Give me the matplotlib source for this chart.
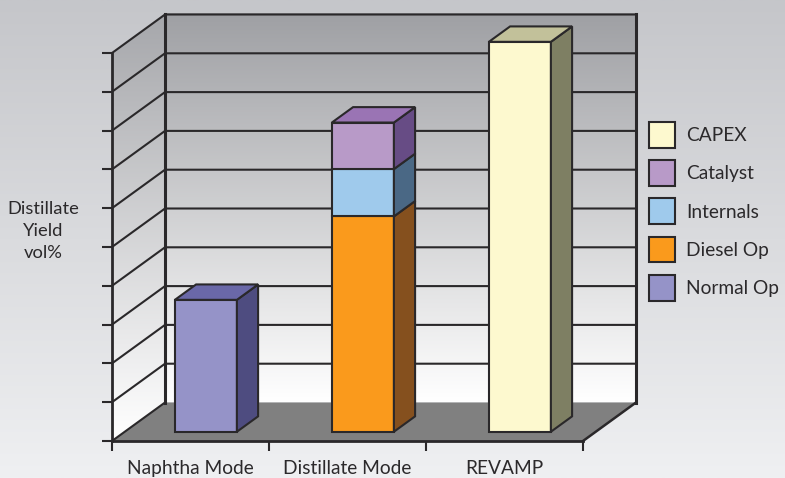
import numpy as np
import matplotlib.pyplot as plt
from matplotlib.colors import LinearSegmentedColormap
from matplotlib.patches import Polygon, Rectangle

categories = ["Naphtha Mode", "Distillate Mode", "REVAMP"]
series_names = ["Normal Op", "Diesel Op", "Internals", "Catalyst", "CAPEX"]
normal_op = [3.4, 0, 0]
diesel_op = [0, 5.55, 0]
internals = [0, 1.22, 0]
catalyst = [0, 1.2, 0]
capex = [0, 0, 10.05]
y_ticks = list(range(0, 11))

front_colors = ["#9593c8", "#fa9a1c", "#9fcaec", "#b89ac8", "#fdf9cf"]
side_colors = ["#4e4c80", "#85501e", "#4a6885", "#674c85", "#7e7f63"]
top_colors = ["#6a68a8", "#b9761c", "#6f95b8", "#9a74b4", "#c2c19a"]
edge = "#2a282a"
text_color = "#2b292b"

plt.rcParams['font.family'] = ['Lato', 'DejaVu Sans']

# oblique depth of the box, in data units
depth_x = 53 / 157
depth_y = 38.5 / 38.8
bar_width = 62 / 157
bar_shift = 0.017
bar_depth_start = 0.24
bar_depth_end = 0.64

page_cmap = LinearSegmentedColormap.from_list("page", ["#c5c6ca", "#eff0f2"])
wall_cmap = LinearSegmentedColormap.from_list("wall", ["#9fa0a4", "#ffffff"])
side_cmap = LinearSegmentedColormap.from_list("side", ["#a6a7ab", "#ffffff"])


def skew(x, y, d):
    return x + d * depth_x, y + d * depth_y


fig = plt.figure(figsize=(7.85, 4.78), dpi=100)

# page background
bg = fig.add_axes([0, 0, 1, 1], zorder=0)
bg.imshow(np.linspace(0, 1, 256).reshape(-1, 1), cmap=page_cmap, extent=(0, 1, 0, 1),
          aspect="auto")
bg.axis("off")

ax = fig.add_axes([112 / 785, 37 / 478, 471 / 785, 388 / 478], zorder=1)
ax.patch.set_visible(False)

n = len(categories)
top = max(y_ticks)
ramp = np.linspace(0, 1, 256).reshape(-1, 1)

# back wall
ax.imshow(ramp, cmap=wall_cmap, aspect="auto", zorder=1, clip_on=False,
          extent=(depth_x, n + depth_x, depth_y, top + depth_y))

# side wall, ramp clipped to the parallelogram
side = ax.imshow(ramp, cmap=side_cmap, aspect="auto", zorder=1,
                 extent=(0, depth_x, 0, top + depth_y))
side_poly = Polygon([(0, 0), (depth_x, depth_y), (depth_x, top + depth_y), (0, top)],
                    closed=True, transform=ax.transData, fc="none", ec="none",
                    clip_on=False)
ax.add_patch(side_poly)
side.set_clip_box(fig.bbox)
side.set_clip_path(side_poly)

# floor
ax.add_patch(Polygon([(0, 0), (n, 0), (n + depth_x, depth_y), (depth_x, depth_y)],
                     closed=True, fc="#808080", ec="none", zorder=1.5, clip_on=False))
ax.plot([n, n + depth_x], [0, depth_y], color=edge, lw=1.8, zorder=2,
        clip_on=False, solid_capstyle="round")

# grid on both walls
for v in y_ticks[1:]:
    ax.plot([0, depth_x, n + depth_x], [v, v + depth_y, v + depth_y],
            color=edge, lw=1.5, zorder=1.8, clip_on=False)
ax.plot([0, depth_x], [0, depth_y], color=edge, lw=1.5, zorder=1.8, clip_on=False)
ax.plot([depth_x, depth_x], [depth_y, top + depth_y], color=edge, lw=2.2,
        zorder=2, clip_on=False)
ax.plot([n + depth_x, n + depth_x], [depth_y, top + depth_y], color=edge, lw=2.2,
        zorder=2, clip_on=False)

# stacked boxes
all_series = [normal_op, diesel_op, internals, catalyst, capex]
for i in range(n):
    x0 = i + 0.5 - bar_width / 2 + bar_shift
    x1 = x0 + bar_width
    base = 0.0
    stack = [(s, values[i]) for s, values in enumerate(all_series) if values[i] > 0]
    for j, (s, h) in enumerate(stack):
        y0 = base
        y1 = base + h
        fa = skew(x0, y0, bar_depth_start)
        fb = skew(x1, y0, bar_depth_start)
        fc_ = skew(x1, y1, bar_depth_start)
        fd = skew(x0, y1, bar_depth_start)
        ba = skew(x1, y0, bar_depth_end)
        bb = skew(x1, y1, bar_depth_end)
        bc = skew(x0, y1, bar_depth_end)
        ax.add_patch(Polygon([fa, fb, fc_, fd], closed=True, fc=front_colors[s],
                             ec=edge, lw=1.5, zorder=3, clip_on=False))
        ax.add_patch(Polygon([fb, ba, bb, fc_], closed=True, fc=side_colors[s],
                             ec=edge, lw=1.5, zorder=3, clip_on=False))
        if j == len(stack) - 1:
            ax.add_patch(Polygon([fd, fc_, bb, bc], closed=True, fc=top_colors[s],
                                 ec=edge, lw=1.5, zorder=3, clip_on=False))
        base = y1

ax.set_xlim(0, n)
ax.set_ylim(0, top)

# axes
for name in ["top", "right"]:
    ax.spines[name].set_visible(False)
for name in ["left", "bottom"]:
    ax.spines[name].set_linewidth(2)
    ax.spines[name].set_color(edge)
    ax.spines[name].set_zorder(2.5)
ax.set_yticks(y_ticks)
ax.set_yticklabels([])
ax.set_xticks(range(n + 1))
ax.set_xticklabels([])
ax.set_xticks(np.arange(n) + 0.5, minor=True)
ax.set_xticklabels(categories, minor=True, fontsize=13.8, color=text_color)
ax.tick_params(axis="both", which="major", length=7.5, width=1.5, color=edge)
ax.tick_params(axis="x", which="minor", length=0, pad=13.5)

fig.text(43 / 785, 1 - 231 / 478, "Distillate\nYield\nvol%", ha="center", va="center",
         fontsize=13.2, color=text_color, linespacing=1.43)

# legend, top entry first
handles = [Rectangle((0, 0), 1, 1, fc=front_colors[s], ec=edge, lw=1.5)
           for s in range(len(series_names) - 1, -1, -1)]
fig.legend(handles, series_names[::-1], loc="upper left",
           bbox_to_anchor=(649 / 785, 1 - 122 / 478), frameon=False, fontsize=13.8,
           borderpad=0, borderaxespad=0, handlelength=1.35, handleheight=1.69,
           handletextpad=0.57, labelspacing=0.65, labelcolor=text_color)

fig.savefig("out.png", dpi=100)
